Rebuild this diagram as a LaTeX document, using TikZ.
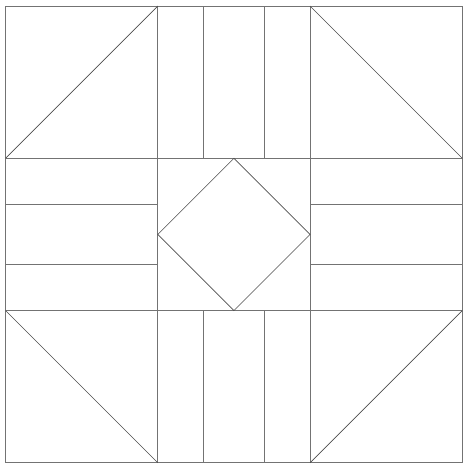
\documentclass[tikz,border=0pt]{standalone}
\begin{document}
\begin{tikzpicture}[seam/.style={line width=0.5pt, black!55}, cut/.style={line width=0.35pt, black!70}]
			\useasboundingbox (-0.11,-0.13) rectangle (9.23,9.12);
			% \draw[help lines] (0,0) grid (9,9);
			\draw[seam] (0,0) rectangle (9,9);
			\draw[seam] (3,0) -- (3,9);
			\draw[seam] (6,0) -- (6,9);
			\draw[seam] (0,3) -- (9,3);
			\draw[seam] (0,6) -- (9,6);

			% strips top and bottom
			\foreach \x in {3.9,5.1} {
				\draw[seam] (\x,6) -- (\x,9);
				\draw[seam] (\x,0) -- (\x,3);
			}
			% strips left and right
			\foreach \y in {3.9,5.1} {
				\draw[seam] (0,\y) -- (3,\y);
				\draw[seam] (6,\y) -- (9,\y);
			}

			% corner triangles
			\draw[cut] (0,6) -- (3,9);
			\draw[cut] (6,9) -- (9,6);
			\draw[cut] (0,3) -- (3,0);
			\draw[cut] (6,0) -- (9,3);

			% centre diamond
			\coordinate (dt) at (4.5,6);
			\coordinate (dr) at (6,4.5);
			\coordinate (db) at (4.5,3);
			\coordinate (dl) at (3,4.5);
			\draw[cut] (dt) -- (dr) -- (db) -- (dl) -- cycle;
		\end{tikzpicture}
\end{document}
